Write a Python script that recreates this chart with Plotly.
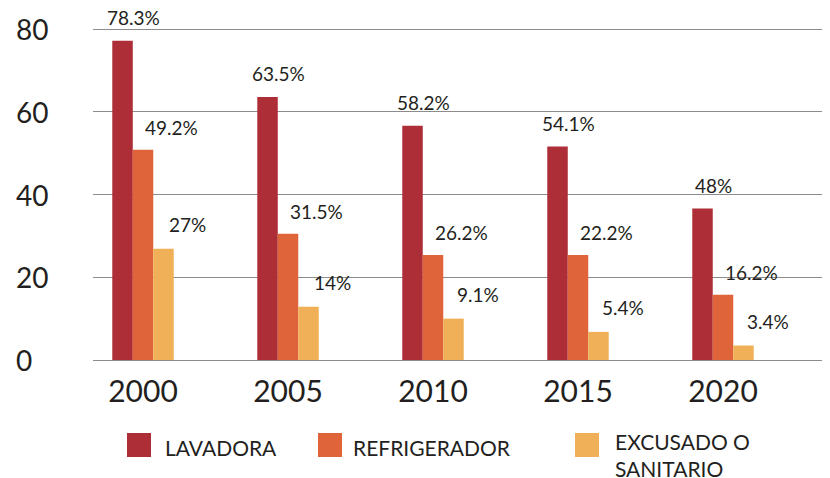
import plotly.graph_objects as go

# ---------------- data ----------------
years = ["2000", "2005", "2010", "2015", "2020"]
series_names = ["LAVADORA", "REFRIGERADOR", "EXCUSADO O<br>SANITARIO"]

lavadora = [77.2, 63.6, 56.6, 51.6, 36.6]
refrigerador = [50.8, 30.5, 25.4, 25.4, 15.8]
excusado = [26.9, 12.9, 10.0, 6.8, 3.5]

lavadora_labels = ["78.3%", "63.5%", "58.2%", "54.1%", "48%"]
refrigerador_labels = ["49.2%", "31.5%", "26.2%", "22.2%", "16.2%"]
excusado_labels = ["27%", "14%", "9.1%", "5.4%", "3.4%"]

y_ticks = [0, 20, 40, 60, 80]

# ---------------- style ----------------
colors = ["#AD2E36", "#E0643A", "#F0B057"]
FONT = "Lato"
TXT = "#231F20"
GRID = "#8C8C8C"

# the page body adds an 8px margin, so the figure is 8px smaller than the window
OFF = 8
W, H = 830 - OFF, 478 - OFF
ML, MR, MT, MB = 85, 0, 19, 118
PW, PH = W - ML - MR, H - MT - MB


def px_x(px):
    """screen pixel x -> paper fraction"""
    return (px - OFF - ML) / PW


def px_y(py):
    """screen pixel y -> paper fraction"""
    return (H - MB - (py - OFF)) / PH


values = [lavadora, refrigerador, excusado]
labels = [lavadora_labels, refrigerador_labels, excusado_labels]

fig = go.Figure()
for name, vals, col in zip(series_names, values, colors):
    fig.add_trace(go.Bar(x=years, y=vals, name=name, marker_color=col,
                         marker_line_width=0, showlegend=False,
                         hoverinfo="skip"))

annotations = []
# value labels (category axis -> annotation x is the category index)
xshifts = [-9.5, 28, 44.5]
yshifts = [10, 9, 11]
for labs, vals, xs, ys in zip(labels, values, xshifts, yshifts):
    for i, (v, t) in enumerate(zip(vals, labs)):
        annotations.append(dict(x=i, y=v, xref="x", yref="y", text=t,
                                showarrow=False, xanchor="center",
                                yanchor="bottom", xshift=xs, yshift=ys,
                                font=dict(family=FONT, size=19, color=TXT)))

# y-axis tick labels (left aligned as in the reference)
for t in y_ticks:
    annotations.append(dict(x=px_x(14), y=t, xref="paper", yref="y",
                            text=str(t), showarrow=False, xanchor="left",
                            yanchor="middle",
                            font=dict(family=FONT, size=28, color=TXT)))

# manual legend (large square swatches)
shapes = []
sw_left = [127, 318, 575]
txt_left = [163, 351, 613]
txt_mid = [447, 447, 455]
for name, col, sx, tx, ty in zip(series_names, colors, sw_left, txt_left, txt_mid):
    shapes.append(dict(type="rect", xref="paper", yref="paper",
                       x0=px_x(sx), x1=px_x(sx + 24),
                       y0=px_y(457), y1=px_y(433),
                       fillcolor=col, line=dict(width=0)))
    annotations.append(dict(x=px_x(tx), y=px_y(ty), xref="paper", yref="paper",
                            text=name, showarrow=False, xanchor="left",
                            yanchor="middle", align="left",
                            font=dict(family=FONT, size=21, color=TXT)))

fig.update_layout(
    width=W, height=H,
    margin=dict(l=ML, r=MR, t=MT, b=MB, pad=0),
    paper_bgcolor="white", plot_bgcolor="white",
    barmode="group", bargap=0.576, bargroupgap=0,
    font=dict(family=FONT, color=TXT),
    xaxis=dict(type="category", range=[-0.345, 4.738], showgrid=False,
               showline=False, zeroline=False, ticks="",
               ticklabelstandoff=11,
               tickfont=dict(family=FONT, size=30, color=TXT)),
    yaxis=dict(range=[0, 80.5], tickvals=y_ticks, showticklabels=False,
               showgrid=True, gridcolor=GRID, gridwidth=1.2,
               zeroline=True, zerolinecolor=GRID, zerolinewidth=1.2,
               showline=False, ticks=""),
    annotations=annotations,
    shapes=shapes,
)

fig.write_html("out.html")
